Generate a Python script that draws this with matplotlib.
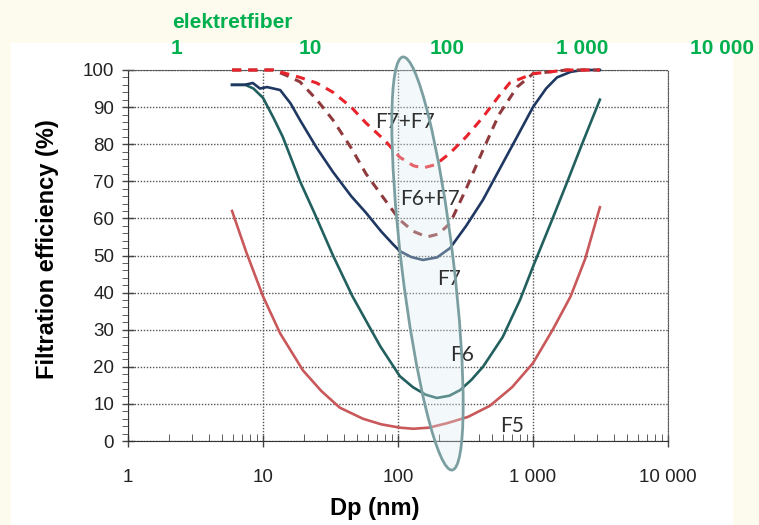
import matplotlib.pyplot as plt
import matplotlib.patches as patches
import matplotlib.ticker as ticker

# data (Dp in nm, efficiency in %)
x_f5 = [5.9, 7.5, 10, 13.4, 19.8, 27, 37, 55, 75, 103, 130, 170, 231, 330, 480, 700, 1000, 1400, 1900, 2430, 3130]
y_f5 = [62, 51, 39, 29, 19, 13.5, 9, 6, 4.5, 3.6, 3.3, 3.6, 4.8, 6.5, 9.5, 14.5, 21, 30, 39, 49, 63]

x_f6 = [5.9, 7.4, 8.5, 10, 12, 14, 18.8, 24, 33, 46, 62, 74, 103, 129, 160, 194, 240, 288, 350, 426, 596, 801, 1000, 1384, 1800, 2306, 3130]
y_f6 = [96, 96, 95, 92.5, 87, 82, 70, 61.5, 50, 39, 30.5, 25.5, 17.5, 14.5, 12.5, 11.6, 12.2, 13.7, 16.5, 20, 28, 38, 47, 59.6, 70, 80, 92]

x_f7 = [5.9, 7.3, 8.4, 9.5, 10.7, 13.4, 16, 18.8, 25, 33, 45, 58, 75, 92, 103, 125, 153, 195, 243, 320, 426, 560, 762, 1000, 1250, 1506, 1900, 2345, 3130]
y_f7 = [96, 96, 96.5, 95, 95.4, 94.6, 91, 86.5, 79, 72.5, 66, 61.5, 56.5, 53, 51.2, 49.6, 48.8, 49.5, 52, 58, 65, 73, 82, 90, 95, 98, 99.5, 100, 100]

x_f6f7 = [5.9, 6.75, 11.9, 15, 18.8, 25, 33, 45, 58, 80, 103, 130, 164, 200, 243, 320, 426, 560, 762, 1000, 1780, 3130]
y_f6f7 = [100, 100, 100, 98.5, 96.8, 92, 86.5, 79, 72, 65, 59.6, 56.5, 55, 55.8, 58.7, 68, 78.4, 88, 95.4, 99, 100, 100]

x_f7f7 = [5.9, 11.9, 18.8, 25, 33, 45, 58, 80, 103, 130, 153, 190, 243, 320, 426, 560, 672, 1000, 1780, 3130]
y_f7f7 = [100, 100, 98, 96.5, 94, 90, 85.7, 81, 76.5, 74.2, 73.6, 74.5, 77.6, 82, 87.3, 93, 96.5, 99, 100, 100]

xticks = [1, 10, 100, 1000, 10000]
xticklabels = ['1', '10', '100', '1 000', '10 000']
top_labels = ['1', '10', '100', '1 000', '10 000']

plt.rcParams['font.family'] = ['Liberation Sans', 'DejaVu Sans']

fig = plt.figure(figsize=(7.59, 5.25), dpi=100)
fig.patch.set_facecolor('#FDFAEE')
# white panel behind the chart
fig.add_artist(patches.Rectangle((11/759, 0), 722/759, 1-43/525, transform=fig.transFigure,
                                 facecolor='white', edgecolor='none', zorder=0))

ax = fig.add_axes([128/759, 1-441/525, 540/759, 371/525])
ax.set_facecolor('none')
ax.set_xscale('log')
ax.set_xlim(1, 10000)
ax.set_ylim(0, 100)

ax.plot(x_f5, y_f5, color='#C9585A', lw=1.9, clip_on=False, zorder=3)
ax.plot(x_f6, y_f6, color='#22605F', lw=1.9, clip_on=False, zorder=3)
ax.plot(x_f7, y_f7, color='#1F3862', lw=1.9, clip_on=False, zorder=3)
ax.plot(x_f6f7, y_f6f7, color='#8F3B3E', lw=2.2, dashes=(3, 2.3), clip_on=False, zorder=3)
ax.plot(x_f7f7, y_f7f7, color='#E8232B', lw=2.2, dashes=(3, 2.3), clip_on=False, zorder=3)

# highlighted particle range (placed in inches on the figure)
ell = patches.Ellipse((4.275, 2.615), 0.52, 4.16, angle=6.8, transform=fig.dpi_scale_trans,
                      facecolor='#DCEEF0', alpha=0.32, edgecolor='none', hatch='....', zorder=4,
                      clip_on=False)
ax.add_patch(ell)
ell2 = patches.Ellipse((4.275, 2.615), 0.52, 4.16, angle=6.8, transform=fig.dpi_scale_trans,
                       facecolor='none', edgecolor='#7B9FA1', lw=2, zorder=7, clip_on=False)
ax.add_patch(ell2)

lab = dict(fontsize=15, color='#2E2E2E', family=['Lato', 'DejaVu Sans'], zorder=6)
ax.text(10 ** ((375-128)/135), 84.5, 'F7+F7', **lab)
ax.text(10 ** ((400-128)/135), 63.5, 'F6+F7', **lab)
ax.text(10 ** ((437-128)/135), 42, 'F7', **lab)
ax.text(10 ** ((450-128)/135), 21.5, 'F6', **lab)
ax.text(10 ** ((500-128)/135), 2.5, 'F5', **lab)

ax.grid(True, which='major', color='#555555', ls=(0, (1, 1.2)), lw=1, zorder=1)
ax.set_axisbelow(True)
ax.set_xticks(xticks)
ax.set_xticklabels(xticklabels)
ax.yaxis.set_major_locator(ticker.MultipleLocator(10))
ax.yaxis.set_minor_locator(ticker.MultipleLocator(2))
ax.tick_params(axis='both', which='major', direction='inout', length=8, width=1, color='#444444',
               labelsize=13.5, labelcolor='#222222')
ax.tick_params(axis='y', which='minor', direction='out', length=4, color='#444444')
ax.tick_params(axis='x', which='minor', direction='in', length=5, color='#444444')
ax.tick_params(axis='x', which='major', pad=16)
ax.tick_params(axis='y', which='major', pad=6)
for s in ['top', 'right']:
    ax.spines[s].set_linestyle((0, (1, 1.2)))
    ax.spines[s].set_color('#555555')
for s in ['left', 'bottom']:
    ax.spines[s].set_color('#333333')

ax.set_xlabel('Dp (nm)', fontsize=17, fontweight='bold')
ax.xaxis.set_label_coords(0.457, -0.151)
ax.set_ylabel('Filtration efficiency (%)', fontsize=17, fontweight='bold')
ax.yaxis.set_label_coords(-0.128, 0.517)

# elektretfiber scale on top
green = '#00B04F'
fig.text(172/759, 1-22/525, 'elektretfiber', color=green, fontsize=15, fontweight='bold',
         va='center', ha='left')
for lbl, px in zip(top_labels, [177, 310, 447, 582, 722]):
    fig.text(px/759, 1-49/525, lbl, color=green, fontsize=15, fontweight='bold',
             va='center', ha='center')

fig.savefig('out.png', dpi=100, facecolor=fig.get_facecolor())
